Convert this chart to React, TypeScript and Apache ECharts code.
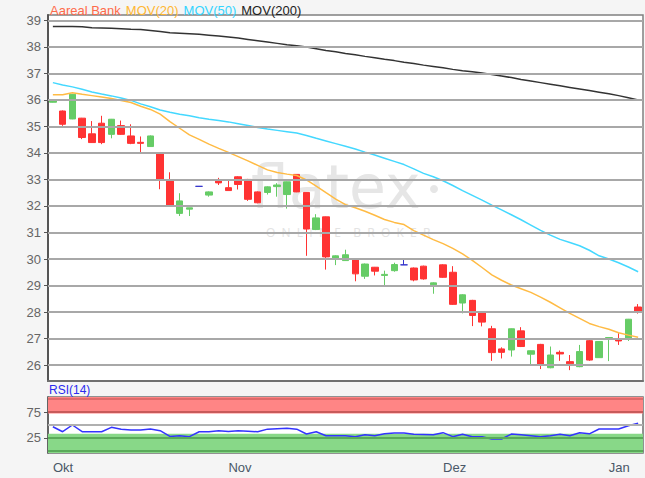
import React, { useEffect, useRef } from "react";
import * as echarts from "echarts";

// Trading days shown (Xetra calendar)
const DATES = [
  "2018-10-08", "2018-10-09", "2018-10-10", "2018-10-11", "2018-10-12",
  "2018-10-15", "2018-10-16", "2018-10-17", "2018-10-18", "2018-10-19",
  "2018-10-22", "2018-10-23", "2018-10-24", "2018-10-25", "2018-10-26",
  "2018-10-29", "2018-10-30", "2018-10-31",
  "2018-11-01", "2018-11-02", "2018-11-05", "2018-11-06", "2018-11-07",
  "2018-11-08", "2018-11-09", "2018-11-12", "2018-11-13", "2018-11-14",
  "2018-11-15", "2018-11-16", "2018-11-19", "2018-11-20", "2018-11-21",
  "2018-11-22", "2018-11-23", "2018-11-26", "2018-11-27", "2018-11-28",
  "2018-11-29", "2018-11-30",
  "2018-12-03", "2018-12-04", "2018-12-05", "2018-12-06", "2018-12-07",
  "2018-12-10", "2018-12-11", "2018-12-12", "2018-12-13", "2018-12-14",
  "2018-12-17", "2018-12-18", "2018-12-19", "2018-12-20", "2018-12-21",
  "2018-12-27", "2018-12-28",
  "2019-01-02", "2019-01-03", "2019-01-04", "2019-01-07",
];

const OPEN = [
  35.91, 35.58, 35.28, 35.31, 34.72, 35.12, 34.70, 35.03, 34.64, 34.40,
  34.24, 34.00, 32.98, 31.72, 31.88, 32.74, 32.41, 32.97, 32.69, 33.10,
  33.00, 32.53, 32.51, 32.73, 32.43, 33.19, 32.51, 31.11, 31.59, 30.00,
  29.94, 30.00, 29.35, 29.69, 29.38, 29.56, 29.78, 29.66, 29.73, 29.03,
  29.78, 29.50, 28.34, 28.44, 27.99, 27.37, 26.61, 26.57, 27.29, 26.41,
  26.78, 25.90, 26.48, 26.13, 25.94, 26.92, 26.28, 26.99, 26.95, 26.99,
  28.19,
];
const CLOSE = [
  36.00, 35.08, 36.21, 34.58, 34.39, 34.39, 35.27, 34.70, 34.36, 34.36,
  34.64, 32.98, 32.01, 32.19, 31.93, 32.74, 32.53, 32.87, 32.58, 32.81,
  32.25, 32.12, 32.72, 32.79, 32.91, 32.53, 31.13, 31.55, 30.08, 30.12,
  30.16, 29.44, 29.81, 29.54, 29.42, 29.79, 29.78, 29.21, 29.25, 29.10,
  29.31, 28.29, 28.65, 27.87, 27.62, 26.47, 26.48, 27.37, 26.70, 26.54,
  26.04, 26.38, 26.42, 26.05, 26.51, 26.19, 26.89, 27.04, 26.91, 27.73,
  28.00,
];
const LOW = [
  35.90, 35.02, 35.27, 34.52, 34.38, 34.33, 34.55, 34.68, 34.33, 34.00,
  34.23, 32.63, 32.00, 31.62, 31.62, 32.74, 32.35, 32.79, 32.58, 32.62,
  32.19, 32.10, 32.43, 32.35, 31.90, 32.52, 30.12, 31.09, 29.60, 29.77,
  29.93, 29.16, 29.25, 29.38, 29.02, 29.52, 29.78, 29.16, 29.22, 28.69,
  29.29, 28.27, 27.95, 27.47, 27.46, 26.16, 26.25, 26.32, 26.68, 26.00,
  25.85, 25.88, 26.16, 25.81, 25.92, 26.16, 26.27, 26.15, 26.76, 26.91,
  27.94,
];
const HIGH = [
  36.00, 35.60, 36.22, 35.32, 35.20, 35.40, 35.28, 35.22, 35.08, 34.62,
  34.66, 34.00, 33.27, 32.48, 31.93, 32.74, 32.55, 33.06, 32.98, 33.12,
  33.02, 32.55, 32.74, 32.86, 32.92, 33.20, 32.52, 31.69, 31.60, 30.14,
  30.35, 30.02, 29.83, 29.70, 29.56, 29.86, 29.98, 29.68, 29.75, 29.12,
  29.80, 29.73, 28.67, 28.46, 28.00, 27.48, 26.67, 27.38, 27.43, 26.55,
  26.80, 26.70, 26.55, 26.38, 26.76, 26.99, 26.90, 27.05, 27.20, 27.74,
  28.30,
];

const MOV20 = [
  36.19, 36.19, 36.27, 36.21, 36.16, 36.11, 36.05, 35.98, 35.90, 35.76,
  35.64, 35.46, 35.18, 34.93, 34.68, 34.51, 34.33, 34.17, 34.02, 33.86,
  33.70, 33.53, 33.36, 33.26, 33.20, 33.15, 32.98, 32.75, 32.50, 32.26,
  32.05, 31.93, 31.80, 31.65, 31.49, 31.38, 31.30, 31.07, 30.90, 30.73,
  30.58, 30.40, 30.19, 29.95, 29.68, 29.40, 29.20, 29.02, 28.88, 28.74,
  28.56, 28.37, 28.16, 27.95, 27.76, 27.57, 27.45, 27.35, 27.22, 27.13,
  27.05,
];
const MOV50 = [
  36.65, 36.56, 36.49, 36.40, 36.30, 36.22, 36.15, 36.07, 35.98, 35.85,
  35.74, 35.62, 35.53, 35.46, 35.40, 35.33, 35.27, 35.22, 35.17, 35.10,
  35.03, 34.96, 34.90, 34.85, 34.80, 34.75, 34.66, 34.55, 34.45, 34.35,
  34.25, 34.15, 34.03, 33.92, 33.80, 33.68, 33.56, 33.40, 33.23, 33.10,
  32.95, 32.77, 32.58, 32.40, 32.22, 32.03, 31.85, 31.67, 31.48, 31.28,
  31.08, 30.90, 30.74, 30.62, 30.50, 30.33, 30.12, 30.00, 29.86, 29.70,
  29.52,
];
const MOV200 = [
  38.77, 38.77, 38.77, 38.76, 38.72, 38.71, 38.70, 38.68, 38.66, 38.65,
  38.62, 38.58, 38.53, 38.51, 38.49, 38.47, 38.44, 38.41, 38.37, 38.33,
  38.28, 38.23, 38.18, 38.13, 38.08, 38.04, 37.99, 37.93, 37.86, 37.81,
  37.75, 37.70, 37.64, 37.59, 37.53, 37.48, 37.42, 37.37, 37.31, 37.26,
  37.21, 37.15, 37.10, 37.06, 37.01, 36.96, 36.90, 36.84, 36.77, 36.71,
  36.65, 36.59, 36.53, 36.47, 36.41, 36.35, 36.29, 36.23, 36.16, 36.08,
  36.00,
];
const RSI14 = [
  46.7, 37.0, 50.0, 37.0, 37.0, 37.0, 45.5, 42.0, 40.4, 40.4,
  42.3, 39.0, 28.0, 29.4, 27.5, 37.0, 37.0, 39.0, 37.5, 39.0,
  38.0, 37.0, 42.0, 43.0, 43.6, 42.0, 32.7, 37.0, 29.4, 29.4,
  29.4, 27.5, 31.0, 29.4, 33.0, 34.6, 34.6, 32.0, 31.5, 31.0,
  35.2, 27.5, 32.0, 27.5, 27.5, 23.0, 23.0, 32.5, 31.0, 29.4,
  27.5, 29.4, 32.0, 29.4, 35.2, 33.0, 42.3, 42.3, 42.3, 48.6,
  53.3,
];

const PRICE_TICKS = [26, 27, 28, 29, 30, 31, 32, 33, 34, 35, 36, 37, 38, 39];
const RSI_TICKS = [25, 75];
const RSI_LINES = [
  { value: 100, color: "#e06a6a" },
  { value: 75, color: "#c85a5a" },
  { value: 50, color: "#b0b0b0" },
  { value: 25, color: "#5aaa5a" },
  { value: 0, color: "#5aaa5a" },
];
const MONTHS = ["Jan", "Feb", "Mär", "Apr", "Mai", "Jun", "Jul", "Aug", "Sep", "Okt", "Nov", "Dez"];

const FONT = "'Liberation Sans', Arial, sans-serif";
const UP = "#66cc66";
const DOWN = "#ff3333";
const FLAT = "#3333cc";

const monthOf = (d: string) => Number(d.slice(5, 7));
const isMonthStart = (i: number) => i === 0 || monthOf(DATES[i]) !== monthOf(DATES[i - 1]);

export default function App() {
  const ref = useRef<HTMLDivElement>(null);

  useEffect(() => {
    const chart = echarts.init(ref.current!, null, { renderer: "svg" });

    const candles = DATES.map((_, i) => {
      const v = [OPEN[i], CLOSE[i], LOW[i], HIGH[i]];
      if (OPEN[i] === CLOSE[i]) {
        return { value: v, itemStyle: { color: FLAT, color0: FLAT, borderColor: FLAT, borderColor0: FLAT } };
      }
      return { value: v };
    });

    const option: any = {
      animation: false,
      backgroundColor: "#f5f5f5",
      textStyle: { fontFamily: FONT },
      title: [
        {
          left: 50,
          top: 1,
          padding: 0,
          text: "{a|Aareal Bank} {b|MOV(20)} {c|MOV(50)} {d|MOV(200)}",
          textStyle: {
            fontFamily: FONT,
            fontWeight: "normal",
            rich: {
              a: { color: "#ff6a4a", fontSize: 13, fontFamily: FONT },
              b: { color: "#ffb733", fontSize: 13, fontFamily: FONT },
              c: { color: "#33d4ff", fontSize: 13, fontFamily: FONT },
              d: { color: "#222222", fontSize: 13, fontFamily: FONT },
            },
          },
        },
        {
          left: 49,
          top: 384,
          padding: 0,
          text: "RSI(14)",
          textStyle: { color: "#2a2af0", fontSize: 12, fontWeight: "normal", fontFamily: FONT },
        },
      ],
      graphic: [
        {
          type: "text",
          left: 251,
          top: 157,
          z: 1,
          silent: true,
          style: {
            text: "flatex",
            fontSize: 60,
            lineHeight: 50,
            fontFamily: "'DejaVu Sans', sans-serif",
            fill: "#e6e6e6",
          },
        },
        {
          type: "circle",
          z: 1,
          silent: true,
          shape: { cx: 434, cy: 189, r: 4 },
          style: { fill: "#e6e6e6" },
        },
        {
          type: "text",
          left: 266,
          top: 226,
          z: 1,
          silent: true,
          style: {
            text: "O  N  L  I  N  E    B  R  O  K  E  R",
            fontSize: 12,
            fontFamily: "'Open Sans', sans-serif",
            fill: "#e3e3e3",
          },
        },
      ],
      grid: [
        { left: 48, right: 2, top: 15, height: 366, show: true, backgroundColor: "#ffffff", borderColor: "#808080", borderWidth: 1.5 },
        { left: 48, right: 2, top: 397, height: 56, show: true, backgroundColor: "#ffffff", borderColor: "#707070", borderWidth: 1.5 },
      ],
      xAxis: [
        {
          type: "category",
          gridIndex: 0,
          data: DATES,
          boundaryGap: true,
          axisLine: { lineStyle: { color: "#707070", width: 2 } },
          axisTick: { show: false },
          axisLabel: { show: false },
          splitLine: { show: false },
        },
        {
          type: "category",
          gridIndex: 1,
          data: DATES,
          boundaryGap: true,
          axisLine: { lineStyle: { color: "#707070", width: 1.5 } },
          axisTick: {
            alignWithLabel: true,
            interval: (i: number) => isMonthStart(i),
            length: 4,
            lineStyle: { color: "#555" },
          },
          axisLabel: {
            interval: (i: number) => isMonthStart(i),
            formatter: (d: string) => MONTHS[monthOf(d) - 1],
            align: "left",
            color: "#4a5868",
            fontSize: 13,
            margin: 8,
            fontFamily: FONT,
          },
          splitLine: { show: false },
        },
      ],
      yAxis: [
        {
          type: "value",
          gridIndex: 0,
          min: 25.4,
          max: 39.2,
          splitLine: { show: false },
          axisLine: { show: true, lineStyle: { color: "#555", width: 2 } },
          axisTick: { show: true, customValues: PRICE_TICKS, length: 4, lineStyle: { color: "#555" } },
          axisLabel: { customValues: PRICE_TICKS, color: "#666", fontSize: 13, margin: 7, fontFamily: FONT },
        },
        {
          type: "value",
          gridIndex: 1,
          min: -4,
          max: 104,
          splitLine: { show: false },
          axisLine: { show: true, lineStyle: { color: "#555", width: 1.5 } },
          axisTick: { show: true, customValues: RSI_TICKS, length: 4, lineStyle: { color: "#555" } },
          axisLabel: { customValues: RSI_TICKS, color: "#666", fontSize: 13, margin: 7, fontFamily: FONT },
        },
      ],
      series: [
        {
          // horizontal price grid
          type: "line",
          xAxisIndex: 0,
          yAxisIndex: 0,
          data: DATES.map(() => null),
          silent: true,
          z: 1,
          showSymbol: false,
          lineStyle: { opacity: 0 },
          markLine: {
            silent: true,
            symbol: "none",
            label: { show: false },
            lineStyle: { color: "#a8a8a8", width: 2, type: "solid" },
            data: PRICE_TICKS.map((v) => ({ yAxis: v })),
          },
        },
        {
          name: "Aareal Bank",
          type: "candlestick",
          xAxisIndex: 0,
          yAxisIndex: 0,
          z: 3,
          barWidth: 7,
          data: candles,
          itemStyle: { color: UP, color0: DOWN, borderColor: UP, borderColor0: DOWN, borderWidth: 1 },
        },
        {
          name: "MOV(20)",
          type: "line",
          xAxisIndex: 0,
          yAxisIndex: 0,
          z: 4,
          data: MOV20,
          showSymbol: false,
          lineStyle: { color: "#ffbb44", width: 1.5 },
        },
        {
          name: "MOV(50)",
          type: "line",
          xAxisIndex: 0,
          yAxisIndex: 0,
          z: 4,
          data: MOV50,
          showSymbol: false,
          lineStyle: { color: "#44d8ff", width: 1.5 },
        },
        {
          name: "MOV(200)",
          type: "line",
          xAxisIndex: 0,
          yAxisIndex: 0,
          z: 4,
          data: MOV200,
          showSymbol: false,
          lineStyle: { color: "#333333", width: 1.5 },
        },
        {
          // RSI zones and reference levels
          type: "line",
          xAxisIndex: 1,
          yAxisIndex: 1,
          data: DATES.map(() => null),
          silent: true,
          z: 1,
          showSymbol: false,
          lineStyle: { opacity: 0 },
          markArea: {
            silent: true,
            data: [
              [{ yAxis: 72, itemStyle: { color: "#ff8585" } }, { yAxis: 104 }],
              [{ yAxis: -4, itemStyle: { color: "#88d888" } }, { yAxis: 33 }],
            ],
          },
          markLine: {
            silent: true,
            symbol: "none",
            label: { show: false },
            data: RSI_LINES.map((l) => ({ yAxis: l.value, lineStyle: { color: l.color, width: 2, type: "solid" } })),
          },
        },
        {
          name: "RSI(14)",
          type: "line",
          xAxisIndex: 1,
          yAxisIndex: 1,
          z: 3,
          data: RSI14,
          showSymbol: false,
          lineStyle: { color: "#3333ff", width: 1.5 },
        },
      ],
    };

    chart.setOption(option);
    return () => chart.dispose();
  }, []);

  return (
    <div
      ref={ref}
      style={{ position: "fixed", left: 0, top: 0, width: 645, height: 478, background: "#f5f5f5" }}
    />
  );
}
